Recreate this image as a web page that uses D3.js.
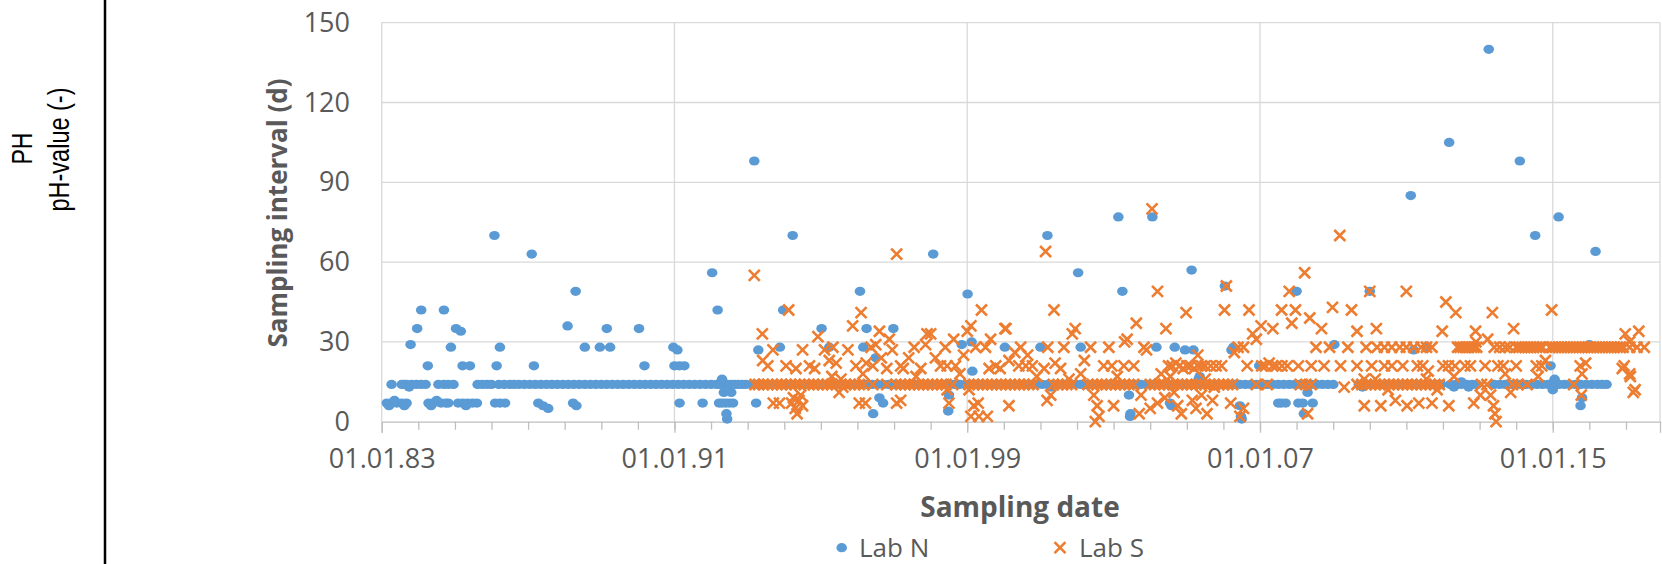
<!DOCTYPE html>
<html lang="en">

<head>
    <meta charset="UTF-8" />
    <title>Sampling interval</title>
    <script src="https://d3js.org/d3.v7.min.js"></script>
    <style>
        body {
            margin: 0;
            background: #fff;
            font-family: "Open Sans", sans-serif;
        }
    </style>
</head>

<body>
    <div id="chart"></div>

    <script>
        // ---- data (decimal year, interval in days) ----
        var seriesNames = ["Lab N", "Lab S"];
        var majorTickYears = [1983, 1991, 1999, 2007, 2015];
        var yTicks = [0, 30, 60, 90, 120, 150];

        // Lab N: irregular samples
        var labN = [
            [1983.14,7],[1983.2,6],[1983.27,7],[1983.35,8],[1983.41,7],[1983.55,7],[1983.62,6],[1983.68,7],
            [1983.27,14],[1983.55,14],[1983.62,14],[1983.68,14],[1983.75,13],[1983.82,14],[1983.95,14],[1984.08,14],[1984.2,14],
            [1983.79,29],[1983.97,35],[1984.08,42],[1984.26,21],
            [1984.28,7],[1984.35,6],[1984.4,7],[1984.5,8],[1984.62,7],[1984.75,7],[1984.82,7],
            [1984.55,14],[1984.7,14],[1984.82,14],[1984.96,14],[1984.7,42],[1984.89,28],
            [1985.03,35],[1985.16,34],[1985.09,7],[1985.22,7],[1985.3,6],[1985.35,7],[1985.48,7],[1985.6,7],[1985.21,21],[1985.41,21],
            [1986.08,70],[1986.1,7],[1986.23,7],[1986.37,7],[1986.14,21],[1986.23,28],
            [1987.1,63],[1987.16,21],[1987.28,7],[1987.41,6],[1987.55,5],
            [1988.08,36],[1988.3,49],[1988.23,7],[1988.32,6],[1988.55,28],[1988.96,28],
            [1989.15,35],[1989.24,28],[1990.03,35],[1990.18,21],
            [1990.97,28],[1991.08,27],[1991.0,21],[1991.14,21],[1991.27,21],[1991.14,7],[1991.77,7],
            [1992.03,56],[1992.18,42],[1992.3,16],[1992.22,7],[1992.3,7],[1992.4,7],[1992.5,7],[1992.6,7],[1992.35,11],[1992.55,11],[1992.42,3],[1992.44,1],
            [1993.18,98],[1993.23,7],[1993.29,27],[1993.88,28],[1993.97,42],[1994.23,70],
            [1995.02,35],[1995.23,28],
            [1996.07,49],[1996.16,28],[1996.25,35],[1996.5,24],[1996.43,3],[1996.7,7],[1996.6,9],[1996.98,35],
            [1998.07,63],[1998.48,4],[1998.5,10],[1998.85,29],
            [1999.01,48],[1999.12,30],[1999.14,19],
            [2000.03,28],[2001.0,28],[2001.19,70],[2001.28,13],
            [2002.03,56],[2002.1,28],
            [2003.13,77],[2003.24,49],[2003.42,10],[2003.46,3],[2003.45,2],
            [2004.06,77],[2004.17,28],[2004.54,7],[2004.58,6],[2004.67,28],[2004.95,27],[2005.18,27],
            [2005.13,57],[2005.32,16],[2005.35,17],
            [2006.04,51],[2006.22,27],[2006.27,28],[2006.45,6],[2006.48,2],[2006.5,1],[2006.98,21],
            [2007.5,7],[2007.58,7],[2007.7,7],
            [2008.0,49],[2008.05,7],[2008.17,7],[2008.3,11],[2008.44,7],[2008.2,3],
            [2009.03,29],[2009.8,13],[2010.0,49],
            [2011.12,85],[2011.2,27],[2011.57,28],
            [2012.17,105],[2012.3,13],[2012.5,15],[2012.7,13],
            [2013.25,140],
            [2014.1,98],[2014.52,70],[2014.94,21],
            [2015.0,12],[2015.05,16],[2015.16,77],[2015.76,6],[2015.8,9],
            [2016.0,29],[2016.17,64]
        ];

        // Lab N: regular 14-day samples
        var labN14 = [
            1985.62,1985.75,1985.88,1986.0,1986.2,1986.35,1986.5,1986.62,1986.75,1986.9,1987.05,1987.2,1987.35,1987.5,1987.65,1987.8,1987.95,
            1988.1,1988.25,1988.4,1988.55,1988.7,1988.85,1989.0,1989.15,1989.3,1989.45,1989.6,1989.75,1989.9,1990.05,1990.2,1990.35,1990.5,
            1990.65,1990.8,1990.95,1991.1,1991.25,1991.4,1991.55,1991.7,1991.85,1992.0,1992.15,1992.25,1992.35,1992.45,1992.55,1992.65,1992.75,
            1992.85,1992.95,1993.1,1993.25,1993.4,1993.55,1993.7,1993.85,1994.0,1994.15,1994.3,1994.45,1994.6,1994.75,1994.9,1995.05,1995.2,
            1995.35,1995.5,1995.65,1995.8,1995.95,1996.1,1996.25,1996.4,1996.55,1996.7,1996.85,1997.0,1997.15,1997.3,1997.45,1997.6,1997.75,
            1997.9,1998.05,1998.2,1998.35,1998.5,1998.65,1998.8,1998.95,1999.1,1999.25,1999.4,1999.55,1999.7,1999.85,2000.0,2000.15,2000.3,
            2000.45,2000.6,2000.75,2000.9,2001.05,2001.2,2001.35,2001.5,2001.65,2001.8,2001.95,2002.1,2002.25,2002.4,2002.55,2002.7,2002.85,
            2003.0,2003.15,2003.3,2003.45,2003.6,2003.75,2003.9,2004.05,2004.2,2004.35,2004.5,2004.65,2004.8,2004.95,2005.1,2005.25,2005.4,
            2005.55,2005.7,2005.85,2006.0,2006.15,2006.3,2006.45,2006.6,2006.75,2006.9,2007.05,2007.2,2007.35,2007.5,2007.65,2007.8,2007.95,
            2008.1,2008.25,2008.4,2008.55,2008.7,2008.85,2009.0,2009.7,2009.85,2010.0,2010.15,2010.3,2010.45,2010.6,2010.75,2010.9,2011.05,
            2011.2,2011.35,2011.5,2011.65,2011.8,2011.95,2012.2,2012.35,2012.5,2012.65,2012.8,2012.93,2013.4,2013.55,2013.7,2013.85,
            2014.12,2014.27,2014.42,2014.57,2014.72,2014.87,2015.02,2015.17,2015.32,2015.47,2015.62,2015.77,2015.92,2016.07,2016.22,2016.35,2016.47
        ];

        // Lab S: irregular samples
        var labS = [
            [1993.18,55],[1993.4,33],[1993.41,23],[1993.55,21],[1993.69,27],[1993.7,7],[1993.87,7],
            [1994.12,42],[1994.05,21],[1994.32,20],[1994.5,27],[1994.69,21],[1994.83,20],[1994.92,32],[1994.2,7],[1994.3,5],[1994.4,8],[1994.35,3],[1994.5,6],[1994.45,10],[1994.25,9],
            [1995.1,27],[1995.33,28],[1995.23,23],[1995.42,22],[1995.74,27],[1995.87,36],[1995.96,21],[1995.5,11],[1995.6,13],[1995.55,16],[1995.3,17],
            [1996.1,41],[1996.37,28],[1996.5,29],[1996.6,34],[1996.87,31],[1996.95,27],[1996.24,22],[1996.42,21],[1996.05,7],[1996.22,7],[1996.15,18],[1996.65,24],[1996.8,20],
            [1997.07,63],[1997.18,21],[1997.25,20],[1997.07,7],[1997.18,8],[1997.55,28],[1997.73,20],[1997.86,29],[1997.9,33],[1997.4,24],[1997.6,17],
            [1998.0,33],[1998.13,24],[1998.27,21],[1998.45,21],[1998.68,21],[1998.4,28],[1998.63,31],[1998.45,12],[1998.5,7],[1998.8,18],[1998.9,25],
            [1999.0,34],[1999.1,36],[1999.39,42],[1999.23,28],[1999.5,28],[1999.18,6],[1999.1,2],[1999.32,2],[1999.55,2],[1999.3,7],[1999.64,31],[1999.6,20],[1999.78,21],[1999.9,20],[1999.05,12],
            [2000.03,35],[2000.06,35],[2000.14,6],[2000.14,23],[2000.46,28],[2000.41,21],[2000.6,21],[2000.78,21],[2000.9,17],[2000.3,26],[2000.65,25],
            [2001.14,64],[2001.37,42],[2001.28,10],[2001.18,8],[2001.64,28],[2001.2,28],[2001.55,20],[2001.87,33],[2001.95,35],[2001.78,16],[2001.4,22],[2001.1,20],
            [2002.37,28],[2002.46,10],[2002.55,6],[2002.6,2],[2002.5,0],[2002.87,28],[2002.73,21],[2002.95,21],[2002.2,23],[2002.1,18],
            [2003.0,6],[2003.37,31],[2003.62,37],[2003.28,21],[2003.55,21],[2003.83,28],[2003.75,10],[2003.7,3],[2003.3,30],[2003.1,17],
            [2004.05,80],[2004.2,49],[2004.43,35],[2003.9,27],[2004.0,5],[2004.98,41],[2004.5,21],[2004.6,21],[2004.7,22],[2004.8,21],[2004.9,20],
            [2004.2,7],[2004.4,9],[2004.65,11],[2004.75,6],[2004.85,3],[2004.3,18],[2004.55,17],
            [2005.0,21],[2005.1,21],[2005.2,20],[2005.3,21],[2005.4,21],[2005.5,21],[2005.65,21],[2005.8,21],[2005.95,21],
            [2005.15,8],[2005.25,5],[2005.4,10],[2005.55,3],[2005.7,8],[2005.5,16],[2005.75,13],[2005.3,25],
            [2006.08,51],[2006.03,42],[2006.7,42],[2006.4,28],[2006.55,28],[2006.3,26],[2006.45,2],[2006.2,7],[2006.55,5],[2006.9,31],[2006.8,33],[2006.65,21],
            [2007.03,36],[2007.35,35],[2007.59,42],[2007.8,49],[2007.87,37],[2007.97,42],[2007.05,21],[2007.15,21],[2007.25,22],[2007.35,21],[2007.45,21],[2007.6,21],[2007.75,21],
            [2008.22,56],[2008.36,39],[2008.68,35],[2008.98,43],[2008.53,28],[2008.9,28],[2008.05,21],[2008.4,21],[2008.75,21],[2008.3,3],
            [2009.18,70],[2009.5,42],[2009.65,34],[2009.4,28],[2009.9,28],[2009.2,21],[2009.65,21],[2009.3,13],[2009.85,6],[2009.85,16],
            [2010.0,49],[2010.18,35],[2010.05,21],[2010.4,21],[2010.6,21],[2010.9,21],[2010.3,6],[2010.7,8],[2010.5,12],[2010.15,16],
            [2011.0,49],[2011.3,21],[2011.45,21],[2011.6,19],[2011.55,16],[2011.84,12],[2011.34,7],[2011.02,6],[2011.7,7],[2011.98,34],
            [2012.08,45],[2012.35,41],[2012.89,34],[2012.0,21],[2012.15,21],[2012.33,21],[2012.6,21],[2012.75,21],[2012.16,6],[2012.84,7],[2013.02,10],[2012.3,17],[2012.9,30],
            [2013.35,41],[2013.22,31],[2013.93,35],[2013.15,21],[2013.5,21],[2013.65,21],[2013.3,10],[2013.38,6],[2013.42,3],[2013.45,0],[2013.85,11],[2013.7,18],
            [2014.0,21],[2014.55,21],[2014.7,21],[2014.8,23],[2014.97,42],[2014.3,14],[2014.6,17],
            [2015.57,14],[2015.8,18],[2015.78,10],[2015.75,21],[2015.9,22],
            [2016.9,20],[2016.98,33],[2016.95,21],
            [2017.12,17],[2017.2,11],[2017.35,34],[2017.1,30],[2017.1,18],[2017.25,12]
        ];

        // Lab S: regular 14-day samples
        var labS14 = [
            1993.2,1993.3,1993.42,1993.55,1993.68,1993.8,1993.92,1994.05,1994.18,1994.3,1994.42,1994.55,1994.68,1994.8,1994.92,
            1995.05,1995.18,1995.3,1995.42,1995.55,1995.68,1995.8,1995.92,1996.05,1996.18,1996.42,1996.8,
            1997.05,1997.18,1997.3,1997.42,1997.55,1997.68,1997.8,1997.92,1998.05,1998.18,1998.3,1998.42,1998.6,
            1999.05,1999.18,1999.3,1999.42,1999.55,1999.68,1999.8,1999.92,2000.05,2000.18,2000.3,2000.42,2000.55,2000.68,2000.8,
            2001.35,2001.48,2001.6,2001.72,2001.85,2002.3,2002.42,2002.55,2002.68,2002.8,2002.92,2003.05,2003.18,2003.3,2003.42,2003.55,
            2004.0,2004.12,2004.25,2004.38,2004.5,2004.62,2004.75,2004.88,2005.0,2005.12,2005.25,2005.38,2005.5,2005.62,2005.75,2005.88,
            2006.0,2006.12,2006.25,2006.9,2007.2,2008.1,2008.25,2008.4,
            2009.65,2009.78,2009.9,2010.02,2010.15,2010.28,2010.4,2010.52,2010.65,2010.78,2010.9,2011.02,2011.15,2011.28,2011.4,
            2011.52,2011.65,2011.78,2011.9,2013.05,2013.2,2013.9,2014.05
        ];

        // Lab S: regular 28-day samples
        var labS28 = [
            2010.2,2010.4,2010.6,2010.82,2011.0,2011.2,2011.4,2011.55,2011.7,
            2012.4,2012.47,2012.55,2012.62,2012.7,2012.78,2012.85,2012.92,
            2013.4,2013.55,2013.7,2013.82,
            2014.0,2014.08,2014.16,2014.24,2014.32,2014.4,2014.48,2014.56,2014.64,2014.72,
            2014.92,2015.0,2015.08,2015.16,2015.24,2015.32,2015.4,2015.48,2015.56,2015.64,2015.72,2015.8,2015.88,
            2015.96,2016.04,2016.12,2016.2,2016.28,2016.36,2016.44,2016.52,2016.6,2016.68,2016.76,2016.84,2016.92,
            2017.1,2017.3,2017.5
        ];

        // ---- helpers ----
        function yearToDate(yv) {
            var yr = Math.floor(yv);
            var start = new Date(yr, 0, 1), end = new Date(yr + 1, 0, 1);
            return new Date(+start + (yv - yr) * (end - start));
        }

        var pointsN = labN14.map(function(d) { return [d, 14]; }).concat(labN);
        var pointsS = labS14.map(function(d) { return [d, 14]; })
            .concat(labS28.map(function(d) { return [d, 28]; }))
            .concat(labS);

        var w = 1662, h = 564;
        var plotLeft = 381.7, plotRight = 1660, plotTop = 22.7, plotBottom = 421.7;
        var grey = "#595959", gridColor = "#d9d9d9";
        var blue = "#5B9BD5", orange = "#ED7D31";

        var svg = d3.select("#chart")
            .append("svg")
            .attr("width", w)
            .attr("height", h);

        svg.append("rect").attr("width", w).attr("height", h).attr("fill", "#fff");

        // left strip with the other panel's label
        svg.append("line")
            .attr("x1", 105).attr("x2", 105).attr("y1", 0).attr("y2", h)
            .attr("stroke", "#000").attr("stroke-width", 2.5);

        svg.append("text")
            .attr("transform", "translate(31.5,148.5) scale(1.25,1) rotate(-90)")
            .attr("text-anchor", "middle")
            .style("font-family", "'Liberation Sans', Arial, sans-serif")
            .style("font-size", "23px")
            .text("PH");

        svg.append("text")
            .attr("transform", "translate(69,149.5) scale(1.25,1) rotate(-90)")
            .attr("text-anchor", "middle")
            .style("font-family", "'Liberation Sans', Arial, sans-serif")
            .style("font-size", "23.5px")
            .text("pH-value (-)");

        // scales
        var x = d3.scaleTime()
            .domain([yearToDate(1983), yearToDate(2017.93)])
            .range([plotLeft, plotRight]);
        var y = d3.scaleLinear()
            .domain([0, 150])
            .range([plotBottom, plotTop]);

        // gridlines
        svg.append("g").selectAll("line")
            .data(yTicks.slice(1))
            .enter().append("line")
            .attr("x1", plotLeft).attr("x2", plotRight)
            .attr("y1", function(d) { return y(d); })
            .attr("y2", function(d) { return y(d); })
            .attr("stroke", gridColor).attr("stroke-width", 1.3);

        svg.append("g").selectAll("line")
            .data(majorTickYears.slice(1))
            .enter().append("line")
            .attr("x1", function(d) { return x(yearToDate(d)); })
            .attr("x2", function(d) { return x(yearToDate(d)); })
            .attr("y1", plotTop).attr("y2", plotBottom)
            .attr("stroke", gridColor).attr("stroke-width", 1.3);

        // plot frame (left and right)
        svg.append("line")
            .attr("x1", plotLeft).attr("x2", plotLeft).attr("y1", plotTop).attr("y2", plotBottom)
            .attr("stroke", gridColor).attr("stroke-width", 1.3);
        svg.append("line")
            .attr("x1", plotRight).attr("x2", plotRight).attr("y1", plotTop).attr("y2", plotBottom)
            .attr("stroke", gridColor).attr("stroke-width", 1.3);

        // x axis: minor ticks every year, major ticks labelled
        var minorAxis = svg.append("g")
            .attr("transform", "translate(0," + plotBottom + ")")
            .call(d3.axisBottom(x)
                .tickValues(d3.range(1984, 2018).map(yearToDate))
                .tickSize(8)
                .tickFormat(""));
        minorAxis.select(".domain").remove();
        minorAxis.selectAll("line").attr("stroke", "#bfbfbf").attr("stroke-width", 1.3);

        var xAxis = svg.append("g")
            .attr("transform", "translate(0," + plotBottom + ")")
            .call(d3.axisBottom(x)
                .tickValues(majorTickYears.map(yearToDate))
                .tickSize(11)
                .tickPadding(16)
                .tickFormat(d3.timeFormat("%d.%m.%y")));
        xAxis.select(".domain").attr("stroke", "#bfbfbf").attr("stroke-width", 1.3);
        xAxis.selectAll("line").attr("stroke", "#bfbfbf").attr("stroke-width", 1.3);
        xAxis.selectAll("text")
            .attr("fill", grey)
            .style("font-family", "'Open Sans', sans-serif")
            .style("font-size", "27px");

        // y axis labels
        var yAxis = svg.append("g")
            .attr("transform", "translate(" + plotLeft + ",0)")
            .call(d3.axisLeft(y)
                .tickValues(yTicks)
                .tickSize(0)
                .tickPadding(31.7));
        yAxis.select(".domain").remove();
        yAxis.selectAll("text")
            .attr("fill", grey)
            .style("font-family", "'Open Sans', sans-serif")
            .style("font-size", "27px");

        // axis titles
        svg.append("text")
            .attr("x", 1020).attr("y", 516.7)
            .attr("text-anchor", "middle")
            .attr("fill", grey)
            .style("font-weight", "bold")
            .style("font-size", "28px")
            .text("Sampling date");

        svg.append("text")
            .attr("transform", "translate(287,213) rotate(-90)")
            .attr("text-anchor", "middle")
            .attr("fill", grey)
            .style("font-weight", "bold")
            .style("font-size", "26px")
            .text("Sampling interval (d)");

        // Lab N dots
        svg.append("g").selectAll("ellipse")
            .data(pointsN)
            .enter().append("ellipse")
            .attr("cx", function(d) { return x(yearToDate(d[0])); })
            .attr("cy", function(d) { return y(d[1]); })
            .attr("rx", 5.3).attr("ry", 4.6)
            .attr("fill", blue);

        // Lab S crosses
        var cross = "M-5.5,-5.5L5.5,5.5M-5.5,5.5L5.5,-5.5";
        svg.append("g").selectAll("path")
            .data(pointsS)
            .enter().append("path")
            .attr("d", cross)
            .attr("transform", function(d) {
                return "translate(" + x(yearToDate(d[0])) + "," + y(d[1]) + ")";
            })
            .attr("fill", "none")
            .attr("stroke", orange).attr("stroke-width", 2.6);

        // legend
        var legend = svg.append("g");
        legend.append("ellipse")
            .attr("cx", 841.7).attr("cy", 547.7).attr("rx", 5.3).attr("ry", 4.6)
            .attr("fill", blue);
        legend.append("text")
            .attr("x", 859).attr("y", 556.5)
            .attr("fill", grey).style("font-size", "26px")
            .text(seriesNames[0]);
        legend.append("path")
            .attr("d", cross)
            .attr("transform", "translate(1060,547.7)")
            .attr("fill", "none").attr("stroke", orange).attr("stroke-width", 2.6);
        legend.append("text")
            .attr("x", 1079).attr("y", 556.5)
            .attr("fill", grey).style("font-size", "26px")
            .text(seriesNames[1]);
    </script>

</body>

</html>
